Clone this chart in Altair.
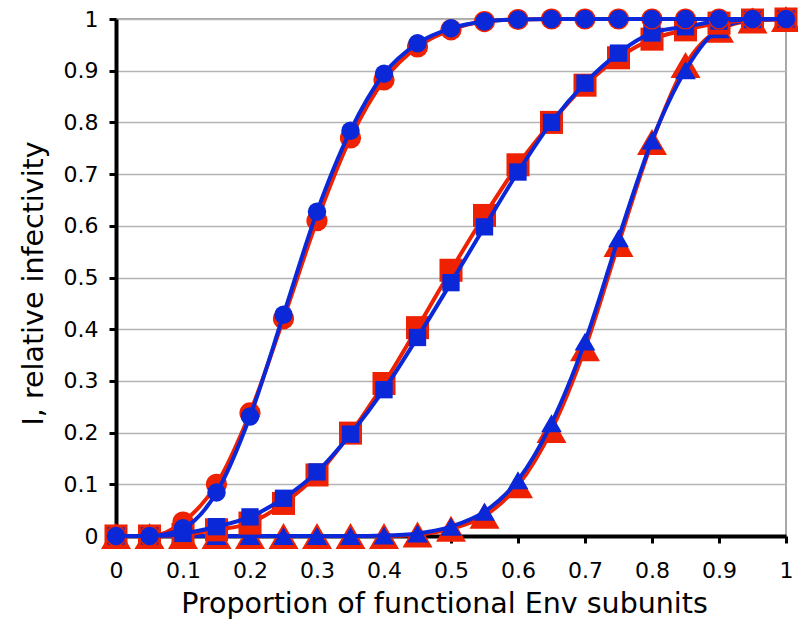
import altair as alt
import pandas as pd

x_vals = [0, 0.05, 0.1, 0.15, 0.2, 0.25, 0.3, 0.35, 0.4, 0.45, 0.5,
          0.55, 0.6, 0.65, 0.7, 0.75, 0.8, 0.85, 0.9, 0.95, 1]

circle_red = [0, 0, 0.027, 0.10, 0.238, 0.42, 0.61, 0.77, 0.882, 0.946, 0.979,
              0.995, 0.999, 1, 1, 1, 1, 1, 1, 1, 1]
circle_blue = [0, 0, 0.015, 0.084, 0.231, 0.428, 0.627, 0.784, 0.894, 0.953, 0.982,
               0.995, 0.999, 1, 1, 1, 1, 1, 1, 1, 1]
square_red = [0, 0, 0.003, 0.012, 0.025, 0.063, 0.118, 0.199, 0.295, 0.403, 0.514,
              0.62, 0.718, 0.80, 0.872, 0.925, 0.961, 0.979, 0.992, 0.998, 1]
square_blue = [0, 0, 0.005, 0.018, 0.037, 0.073, 0.124, 0.197, 0.283, 0.384, 0.49,
               0.598, 0.704, 0.80, 0.876, 0.934, 0.973, 0.985, 0.996, 0.999, 1]
triangle_red = [0, 0, 0, 0, 0, 0, 0, 0, 0, 0.003, 0.014,
                0.039, 0.098, 0.205, 0.363, 0.565, 0.762, 0.911, 0.979, 0.997, 1]
triangle_blue = [0, 0, 0, 0, 0, 0, 0, 0, 0.001, 0.005, 0.018,
                 0.047, 0.108, 0.218, 0.376, 0.576, 0.765, 0.901, 0.98, 0.998, 1]

x_ticks = [0, 0.1, 0.2, 0.3, 0.4, 0.5, 0.6, 0.7, 0.8, 0.9, 1]
y_ticks = [0, 0.1, 0.2, 0.3, 0.4, 0.5, 0.6, 0.7, 0.8, 0.9, 1]

RED = "#EE2200"
BLUE = "#0B28D8"
FONT = "DejaVu Sans"

x_scale = alt.Scale(domain=[0, 1], nice=False)
y_scale = alt.Scale(domain=[0, 1], nice=False)

x_axis = alt.Axis(values=x_ticks, format="~g", grid=False, labelFlush=False,
                  labelPadding=17,
                  title="Proportion of functional Env subunits",
                  titleX=328, titleY=76, titleBaseline="alphabetic",
                  titleAlign="center")
y_axis = alt.Axis(values=y_ticks, format="~g", grid=True, labelFlush=False,
                  labelPadding=11,
                  title="I, relative infectivity",
                  titleX=-74, titleY=264, titleBaseline="alphabetic",
                  titleAngle=-90, titleAlign="center")


def series_layers(values, color, shape, size):
    df = pd.DataFrame({"x": x_vals, "y": values})
    base = alt.Chart(df).encode(
        x=alt.X("x:Q", scale=x_scale, axis=x_axis),
        y=alt.Y("y:Q", scale=y_scale, axis=y_axis),
    )
    line = base.mark_line(color=color, strokeWidth=4, interpolate="monotone")
    pts = base.mark_point(filled=True, shape=shape, size=size, color=color, opacity=1,
                          strokeWidth=0)
    return [line, pts]


layers = []
layers += series_layers(triangle_red, RED, "triangle-up", 900)
layers += series_layers(triangle_blue, BLUE, "triangle-up", 430)
layers += series_layers(square_red, RED, "square", 530)
layers += series_layers(square_blue, BLUE, "square", 300)
layers += series_layers(circle_red, RED, "circle", 450)
layers += series_layers(circle_blue, BLUE, "circle", 340)

chart = alt.layer(*layers).properties(
    width=670, height=517,
    autosize=alt.AutoSizeParams(type="none"),
    padding={"left": 116, "top": 19, "right": 12, "bottom": 90},
    background="white",
).configure_view(
    stroke="#A8A8A8", strokeWidth=2
).configure_axis(
    domainColor="black", domainWidth=4,
    tickColor="black", tickWidth=3, tickSize=7,
    labelFont=FONT, labelFontSize=22, labelColor="black",
    titleFont=FONT, titleFontSize=28.5, titleColor="black", titleFontWeight="normal",
    gridColor="#B4B4B4", gridWidth=1.5,
)

chart.save("out.html", embed_options={"renderer": "svg", "actions": False})
